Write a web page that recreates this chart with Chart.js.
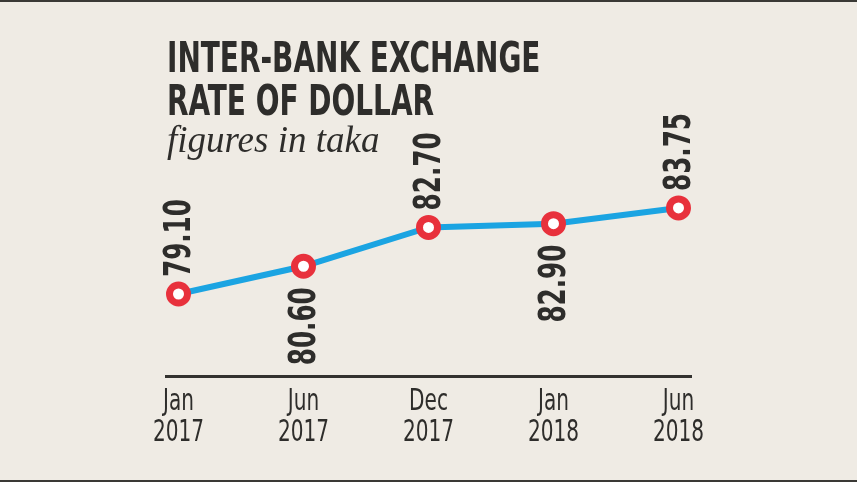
<!DOCTYPE html>
<html>
<head>
<meta charset="utf-8">
<script src="https://cdn.jsdelivr.net/npm/chart.js@4.4.0/dist/chart.umd.min.js"></script>
<style>
  html, body { margin: 0; padding: 0; background: #efebe4; }
  #wrap {
    position: relative; width: 857px; height: 482px; box-sizing: border-box;
    border-top: 2px solid #3a3935; border-bottom: 2px solid #3a3935;
  }
  #chart { position: absolute; left: 0; top: -2px; }
</style>
</head>
<body>
<div id="wrap"><canvas id="chart" width="857" height="482"></canvas></div>
<script>
var months = ['Jan', 'Jun', 'Dec', 'Jan', 'Jun'];
var years = ['2017', '2017', '2017', '2018', '2018'];
var rates = [79.10, 80.60, 82.70, 82.90, 83.75];
var labelSide = ['above', 'below', 'above', 'below', 'above'];

var ink = '#2e2d2b';
var narrow = '"DejaVu Sans Condensed", "DejaVu Sans", sans-serif';

/* ======= Title block ======= */
var titlePlugin = {
    id: 'titleBlock',
    afterDraw: function (chart) {
        var c = chart.ctx;
        c.save();
        c.fillStyle = ink;
        c.textBaseline = 'alphabetic';
        c.textAlign = 'left';
        c.font = 'bold 42px ' + narrow;
        c.save();
        c.translate(167, 0);
        c.scale(0.74, 1);
        c.fillText('INTER-BANK EXCHANGE', 0, 72);
        c.fillText('RATE OF DOLLAR', 0, 115);
        c.restore();
        c.font = 'italic 37px "Liberation Serif", "DejaVu Serif", serif';
        c.fillText('figures in taka', 167, 152);
        c.restore();
    }
};

/* ======= Axis labels (narrow face, at the scale's tick pixels) ======= */
var tickPlugin = {
    id: 'tickLabels',
    afterDraw: function (chart) {
        var c = chart.ctx;
        var xs = chart.scales.x;
        c.save();
        c.fillStyle = ink;
        c.font = '31px ' + narrow;
        c.textAlign = 'center';
        c.textBaseline = 'alphabetic';
        months.forEach(function (m, i) {
            var px = xs.getPixelForValue(i);
            c.save();
            c.translate(px, xs.top);
            c.scale(0.72, 1);
            c.fillText(m, 0, 34);
            c.fillText(years[i], 0, 65);
            c.restore();
        });
        c.restore();
    }
};

/* ======= Value labels, rotated ======= */
var valuePlugin = {
    id: 'valueLabels',
    afterDatasetsDraw: function (chart) {
        var c = chart.ctx;
        var meta = chart.getDatasetMeta(0);
        c.save();
        c.fillStyle = ink;
        c.font = 'bold 37px ' + narrow;
        c.textBaseline = 'middle';
        meta.data.forEach(function (pt, i) {
            var txt = rates[i].toFixed(2);
            c.save();
            if (labelSide[i] === 'above') {
                c.translate(pt.x, pt.y - 17);
                c.textAlign = 'left';
            } else {
                c.translate(pt.x, pt.y + 21);
                c.textAlign = 'right';
            }
            c.rotate(-Math.PI / 2);
            c.scale(0.74, 1);
            c.fillText(txt, 0, 2);
            c.restore();
        });
        c.restore();
    }
};

var ctx = document.getElementById('chart');

var chart = new Chart(ctx, {
    type: 'line',
    data: {
        datasets: [{
            data: rates.map(function (v, i) { return { x: i, y: v }; }),
            borderColor: '#1ba4e2',
            borderWidth: 6,
            pointRadius: 9,
            pointBorderWidth: 7,
            pointBorderColor: '#e8313c',
            pointBackgroundColor: '#ffffff',
            tension: 0
        }]
    },
    options: {
        responsive: false,
        animation: false,
        devicePixelRatio: 1,
        layout: { padding: { left: 166, right: 166, top: 190, bottom: 36 } },
        plugins: { legend: { display: false }, tooltip: { enabled: false } },
        scales: {
            x: {
                type: 'linear',
                min: -0.1,
                max: 4.1,
                afterBuildTicks: function (axis) {
                    axis.ticks = months.map(function (m, i) { return { value: i }; });
                },
                afterFit: function (axis) { axis.height = 70; },
                grid: { display: false },
                border: { display: true, color: '#33322f', width: 3 },
                ticks: { display: false }
            },
            y: {
                display: false,
                min: 74.67,
                max: 84.72
            }
        }
    },
    plugins: [titlePlugin, tickPlugin, valuePlugin]
});
</script>
</body>
</html>
